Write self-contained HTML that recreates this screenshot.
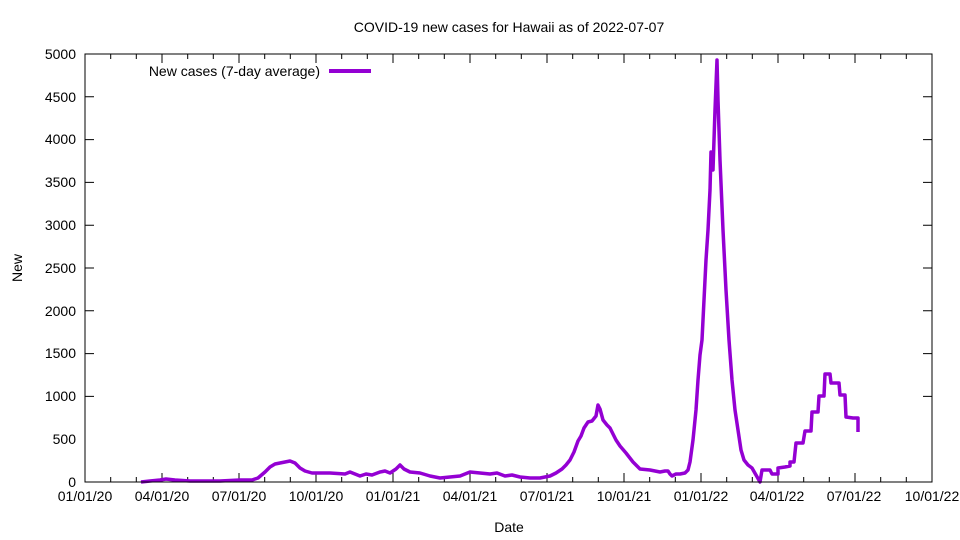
<!DOCTYPE html>
<html><head><meta charset="utf-8"><style>
html,body{margin:0;padding:0;background:#fff}
svg{display:block}
text{font-family:"Liberation Sans",sans-serif;font-size:14px;fill:#000}
</style></head><body>
<svg width="960" height="540" xmlns="http://www.w3.org/2000/svg">
<text x="509" y="32" text-anchor="middle">COVID-19 new cases for Hawaii as of 2022-07-07</text>
<g id="yt" text-anchor="end">
<text x="76" y="487">0</text><text x="76" y="444">500</text><text x="76" y="401">1000</text><text x="76" y="358">1500</text><text x="76" y="316">2000</text><text x="76" y="273">2500</text><text x="76" y="230">3000</text><text x="76" y="187">3500</text><text x="76" y="144">4000</text><text x="76" y="102">4500</text><text x="76" y="59">5000</text>
</g>
<g stroke="#000" stroke-width="1">
<path d="M85 396.4h9M85 353.6h9M85 310.8h9M85 268h9M85 225.2h9M85 182.4h9M85 139.6h9M85 96.8h9M932 396.4h-9M932 353.6h-9M932 310.8h-9M932 268h-9M932 225.2h-9M932 182.4h-9M932 139.6h-9M932 96.8h-9"/>
<path id="xt" d=""/>
</g>
<g text-anchor="middle">
<text x="85" y="501">01/01/20</text><text x="162" y="501">04/01/20</text><text x="239" y="501">07/01/20</text><text x="316" y="501">10/01/20</text><text x="393" y="501">01/01/21</text><text x="470" y="501">04/01/21</text><text x="547" y="501">07/01/21</text><text x="624" y="501">10/01/21</text><text x="701" y="501">01/01/22</text><text x="777" y="501">04/01/22</text><text x="854" y="501">07/01/22</text><text x="932" y="501">10/01/22</text>
</g>
<text x="509" y="532" text-anchor="middle">Date</text>
<text transform="translate(22,268) rotate(-90)" text-anchor="middle">New</text>
<text x="320" y="76" text-anchor="end">New cases (7-day average)</text>
<path d="M329 71H371" stroke="#9400d3" stroke-width="4"/>
<polyline fill="none" stroke="#9400d3" stroke-width="3.5" stroke-linejoin="round" points="141,482 150,481 160,480 166,479 175,480 190,481 220,481 240,480 252,480 258,478 265,472 270,467 275,464 280,463 285,462 290,461 295,463 300,468 305,471 312,473 330,473 345,474 350,472 355,474 360,476 366,474 372,475 380,472 385,471 390,473 396,469 400,465 404,469 410,472 420,473 430,476 440,478 450,477 460,476 470,472 480,473 490,474 497,473 505,476 512,475 520,477 530,478 540,478 550,476 556,473 562,469 566,465 570,460 574,452 578,441 581,436 584,428 588,422 592,421 596,416 598,405 600,409 603,420 607,425 610,428 612,432 616,440 620,446 626,453 633,462 640,469 650,470 660,472 665,471 668,471 670,474 672,476 676,474 680,474 685,473 688,470 690,462 693,440 696,410 698,380 700,355 702,340 704,300 706,260 708,230 710,190 711,152 713,170 715,110 717,60 718,100 720,160 723,230 726,290 729,340 732,380 735,410 738,430 741,450 744,460 748,465 752,468 756,475 760,482 762,470 770,470 772,474 778,474 778,468 785,467 790,466 790,462 794,462 796,443 803,443 805,431 811,431 812,412 818,412 819,396 824,396 825,374 830,374 831,383 839,383 840,395 845,395 846,417 853,418 858,418 858,432"/>
<rect x="85" y="54" width="847" height="428" fill="none" stroke="#000" stroke-width="1"/>
<script>
var d="";for(var i=0;i<=33;i++){var x=85+i*847/33;var L=(i%3==0)?9:5;d+="M"+x.toFixed(1)+" 482v-"+L+"M"+x.toFixed(1)+" 54v"+L;}
document.getElementById("xt").setAttribute("d",d);
</script>
</svg>
</body></html>
